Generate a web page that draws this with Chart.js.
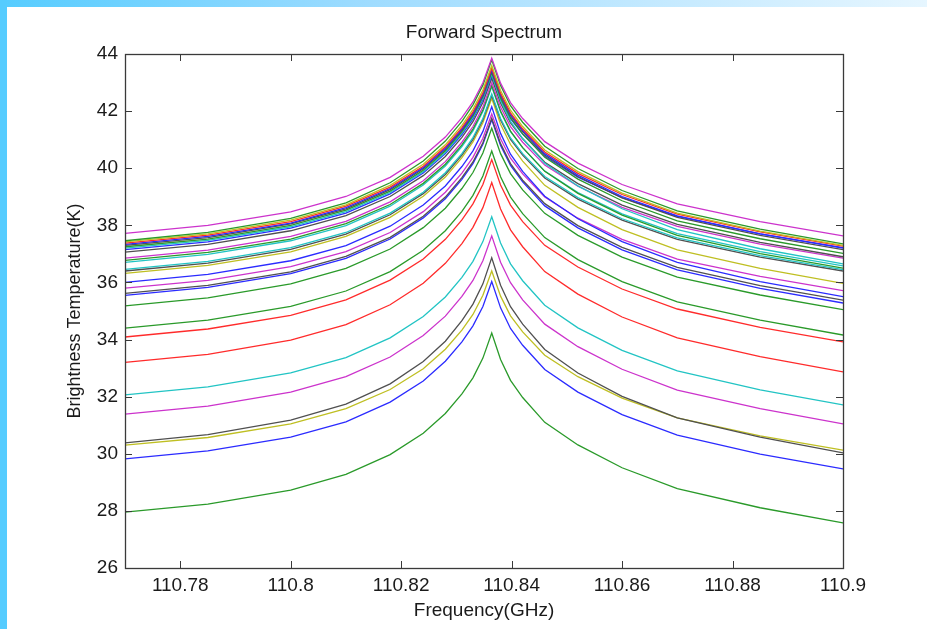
<!DOCTYPE html>
<html>
<head>
<meta charset="utf-8">
<script src="https://cdn.jsdelivr.net/npm/chart.js@4"></script>
<style>
  html, body { margin: 0; padding: 0; background: #fff; }
  body { width: 927px; height: 629px; position: relative; overflow: hidden; }
  .bar-top { position: absolute; left: 0; top: 0; width: 927px; height: 7px;
             background: linear-gradient(to right, #55ccff, #9fdcff 40%, #e6f6ff); }
  .bar-left { position: absolute; left: 0; top: 0; width: 7px; height: 629px; background: #55ccff; }
  .wrap { position: absolute; left: 0; top: 0; width: 927px; height: 629px; }
</style>
</head>
<body>
<div class="bar-top"></div>
<div class="bar-left"></div>
<div class="wrap"><canvas id="spec"></canvas></div>
<script>
// frequency samples (GHz), denser round the line centre
const freqs = [110.77, 110.785, 110.8, 110.81, 110.818, 110.824, 110.828, 110.831, 110.833, 110.8348,
               110.8364,
               110.838, 110.8398, 110.842, 110.846, 110.852, 110.86, 110.87, 110.885, 110.9];
const xTicks = [110.78, 110.8, 110.82, 110.84, 110.86, 110.88, 110.9];
const yTicks = [26, 28, 30, 32, 34, 36, 38, 40, 42, 44];

// brightness temperature (K), one array per curve
const t01 = [37.72, 38.00, 38.47, 39.01, 39.68, 40.42, 41.09, 41.77, 42.32, 42.99, 43.85, 42.98, 42.30, 41.74, 40.93, 40.18, 39.43, 38.75, 38.13, 37.63];
const t02 = [37.46, 37.75, 38.24, 38.79, 39.49, 40.25, 40.95, 41.64, 42.22, 42.91, 43.80, 42.90, 42.19, 41.61, 40.77, 39.99, 39.22, 38.51, 37.87, 37.35];
const t03 = [37.42, 37.70, 38.18, 38.72, 39.40, 40.14, 40.82, 41.50, 42.06, 42.74, 43.60, 42.72, 42.03, 41.46, 40.64, 39.88, 39.13, 38.43, 37.80, 37.30];
const t04 = [37.38, 37.66, 38.13, 38.67, 39.34, 40.07, 40.75, 41.42, 41.97, 42.64, 43.50, 42.63, 41.94, 41.38, 40.57, 39.82, 39.08, 38.39, 37.77, 37.27];
const t05 = [37.33, 37.61, 38.08, 38.62, 39.29, 40.02, 40.70, 41.37, 41.92, 42.59, 43.45, 42.58, 41.89, 41.33, 40.51, 39.76, 39.01, 38.33, 37.70, 37.20];
const t06 = [37.30, 37.57, 38.05, 38.58, 39.25, 39.98, 40.66, 41.33, 41.88, 42.55, 43.40, 42.53, 41.84, 41.28, 40.46, 39.71, 38.96, 38.28, 37.65, 37.15];
const t07 = [37.25, 37.52, 38.00, 38.53, 39.20, 39.93, 40.61, 41.28, 41.83, 42.50, 43.35, 42.46, 41.77, 41.20, 40.38, 39.62, 38.86, 38.16, 37.53, 37.02];
const t08 = [37.20, 37.47, 37.95, 38.48, 39.15, 39.88, 40.56, 41.23, 41.78, 42.45, 43.30, 42.37, 41.64, 41.04, 40.17, 39.38, 38.58, 37.85, 37.18, 36.65];
const t09 = [37.15, 37.42, 37.90, 38.43, 39.10, 39.83, 40.51, 41.18, 41.73, 42.40, 43.25, 42.41, 41.74, 41.20, 40.42, 39.69, 38.97, 38.31, 37.70, 37.22];
const t10 = [37.06, 37.33, 37.81, 38.34, 39.01, 39.74, 40.41, 41.08, 41.63, 42.30, 43.15, 42.28, 41.59, 41.03, 40.21, 39.46, 38.71, 38.03, 37.40, 36.90];
const t11 = [36.85, 37.13, 37.61, 38.14, 38.82, 39.56, 40.23, 40.91, 41.46, 42.14, 43.00, 42.14, 41.46, 40.91, 40.11, 39.37, 38.63, 37.96, 37.34, 36.85];
const t12 = [36.77, 37.05, 37.52, 38.06, 38.73, 39.47, 40.14, 40.82, 41.37, 42.04, 42.90, 42.00, 41.30, 40.72, 39.89, 39.12, 38.36, 37.65, 37.01, 36.50];
const t13 = [36.70, 36.98, 37.46, 37.99, 38.67, 39.41, 40.08, 40.76, 41.31, 41.99, 42.85, 41.97, 41.28, 40.72, 39.90, 39.15, 38.40, 37.71, 37.08, 36.58];
const t14 = [36.46, 36.74, 37.22, 37.75, 38.43, 39.16, 39.84, 40.51, 41.07, 41.74, 42.60, 41.74, 41.06, 40.51, 39.71, 38.97, 38.23, 37.56, 36.94, 36.45];
const t15 = [36.40, 36.68, 37.16, 37.69, 38.37, 39.11, 39.78, 40.46, 41.01, 41.69, 42.55, 41.69, 41.01, 40.46, 39.66, 38.92, 38.18, 37.51, 36.89, 36.40];
const t16 = [36.32, 36.60, 37.07, 37.61, 38.28, 39.02, 39.69, 40.37, 40.92, 41.59, 42.45, 41.54, 40.83, 40.25, 39.40, 38.63, 37.85, 37.14, 36.49, 35.97];
const t17 = [36.00, 36.28, 36.76, 37.29, 37.97, 38.71, 39.38, 40.06, 40.61, 41.29, 42.15, 41.22, 40.49, 39.89, 39.02, 38.23, 37.43, 36.70, 36.03, 35.50];
const t18 = [35.80, 36.07, 36.55, 37.08, 37.75, 38.48, 39.16, 39.83, 40.38, 41.05, 41.90, 41.03, 40.35, 39.80, 38.99, 38.25, 37.51, 36.82, 36.21, 35.71];
const t19 = [35.62, 35.90, 36.37, 36.91, 37.58, 38.32, 38.99, 39.67, 40.22, 40.89, 41.75, 40.86, 40.16, 39.58, 38.76, 37.99, 37.23, 36.53, 35.89, 35.38];
const t20 = [35.55, 35.83, 36.31, 36.84, 37.52, 38.26, 38.93, 39.61, 40.16, 40.84, 41.70, 40.80, 40.10, 39.52, 38.68, 37.91, 37.14, 36.44, 35.79, 35.28];
const t21 = [35.18, 35.46, 35.95, 36.49, 37.17, 37.92, 38.60, 39.29, 39.85, 40.53, 41.40, 40.51, 39.81, 39.24, 38.42, 37.65, 36.89, 36.19, 35.56, 35.05];
const t22 = [34.40, 34.68, 35.16, 35.70, 36.38, 37.13, 37.81, 38.49, 39.05, 39.73, 40.60, 39.70, 38.99, 38.41, 37.57, 36.80, 36.03, 35.32, 34.68, 34.16];
const t23 = [34.09, 34.37, 34.85, 35.39, 36.08, 36.82, 37.51, 38.19, 38.75, 39.43, 40.30, 39.41, 38.71, 38.13, 37.30, 36.54, 35.77, 35.07, 34.43, 33.92];
const t24 = [33.20, 33.48, 33.98, 34.52, 35.22, 35.97, 36.67, 37.36, 37.93, 38.62, 39.50, 38.57, 37.84, 37.25, 36.38, 35.59, 34.79, 34.06, 33.40, 32.87];
const t25 = [32.06, 32.34, 32.83, 33.37, 34.06, 34.81, 35.49, 36.18, 36.74, 37.43, 38.30, 37.38, 36.65, 36.06, 35.20, 34.41, 33.62, 32.90, 32.24, 31.71];
const t26 = [31.39, 31.67, 32.16, 32.70, 33.39, 34.14, 34.82, 35.51, 36.07, 36.76, 37.63, 36.71, 35.99, 35.39, 34.54, 33.75, 32.96, 32.23, 31.58, 31.05];
const t27 = [30.38, 30.67, 31.18, 31.74, 32.45, 33.23, 33.94, 34.66, 35.24, 35.95, 36.86, 35.90, 35.15, 34.54, 33.65, 32.83, 32.01, 31.26, 30.58, 30.03];
const t28 = [30.30, 30.57, 31.05, 31.58, 32.25, 32.98, 33.66, 34.33, 34.88, 35.55, 36.40, 35.52, 34.83, 34.27, 33.45, 32.70, 31.95, 31.26, 30.63, 30.13];
const t29 = [29.82, 30.10, 30.58, 31.12, 31.81, 32.55, 33.24, 33.92, 34.48, 35.16, 36.03, 35.11, 34.39, 33.80, 32.95, 32.16, 31.37, 30.65, 29.99, 29.47];
const t30 = [27.96, 28.24, 28.73, 29.28, 29.97, 30.72, 31.41, 32.10, 32.66, 33.35, 34.23, 33.30, 32.57, 31.97, 31.10, 30.31, 29.51, 28.78, 28.11, 27.58];

const curves = [t01, t02, t03, t04, t05, t06, t07, t08, t09, t10, t11, t12, t13, t14, t15,
                t16, t17, t18, t19, t20, t21, t22, t23, t24, t25, t26, t27, t28, t29, t30];
const curveColors = ['m', 'g', 'y', 'r', 'b', 'k', 'g', 'c', 'b', 'k', 'm', 'g', 'c', 'c', 'k',
                     'y', 'b', 'm', 'k', 'b', 'g', 'g', 'r', 'r', 'c', 'm', 'k', 'y', 'b', 'g'];

// matlab-ish line colours
const palette = { b: '#2b2bff', g: '#2a9a2a', r: '#ff2b2b', c: '#22c4c4', m: '#cc33cc', y: '#bfbf22', k: '#505050' };

const FONT = "'Liberation Sans', Arial, sans-serif";
const INK = '#1a1a1a';

// inward tick marks + box frame, like a matlab axes
const matlabAxes = {
    id: 'matlabAxes',
    afterDatasetsDraw(chart) {
        const {ctx, chartArea: a, scales: {x, y}} = chart;
        const len = 7;
        ctx.save();
        ctx.strokeStyle = '#3a3a3a';
        ctx.lineWidth = 1;
        ctx.beginPath();
        x.ticks.forEach(t => {
            const px = Math.round(x.getPixelForValue(t.value)) + 0.5;
            ctx.moveTo(px, a.bottom); ctx.lineTo(px, a.bottom - len);
            ctx.moveTo(px, a.top); ctx.lineTo(px, a.top + len);
        });
        y.ticks.forEach(t => {
            const py = Math.round(y.getPixelForValue(t.value)) + 0.5;
            ctx.moveTo(a.left, py); ctx.lineTo(a.left + len, py);
            ctx.moveTo(a.right, py); ctx.lineTo(a.right - len, py);
        });
        ctx.stroke();
        ctx.lineWidth = 1.3;
        ctx.strokeRect(Math.round(a.left) + 0.5, Math.round(a.top) + 0.5,
                       Math.round(a.right - a.left), Math.round(a.bottom - a.top));
        ctx.restore();
    }
};

new Chart(document.getElementById('spec').getContext('2d'), {
    type: 'line',
    data: {
        datasets: curves.map((vals, i) => ({
            data: vals.map((v, j) => ({x: freqs[j], y: v})),
            borderColor: palette[curveColors[i]],
            borderWidth: 1.3,
            pointRadius: 0,
            tension: 0,
            fill: false
        }))
    },
    options: {
        responsive: true,
        maintainAspectRatio: false,
        animation: false,
        events: [],
        layout: { padding: { left: 0, right: 84, top: 0, bottom: 0 } },
        plugins: {
            legend: { display: false },
            tooltip: { enabled: false },
            title: { display: false }
        },
        scales: {
            x: {
                type: 'linear',
                min: 110.77,
                max: 110.9,
                grid: { display: false, drawTicks: false },
                border: { display: false },
                afterBuildTicks: s => { s.ticks = xTicks.map(v => ({value: v})); },
                afterFit: s => { s.height = 61; },
                ticks: {
                    padding: 6,
                    color: INK,
                    font: { family: FONT, size: 19 },
                    maxRotation: 0,
                    callback: v => String(Number(v.toFixed(2)))
                },
                title: {
                    display: true,
                    text: 'Frequency(GHz)',
                    color: INK,
                    font: { family: FONT, size: 19 },
                    padding: { top: 0, bottom: 7 }
                }
            },
            // top axis only carries the plot title so it centres over the axes box
            x2: {
                type: 'linear',
                position: 'top',
                min: 110.77,
                max: 110.9,
                grid: { display: false, drawTicks: false },
                border: { display: false },
                ticks: { display: false },
                afterFit: s => { s.height = 54; },
                title: {
                    display: true,
                    text: 'Forward Spectrum',
                    color: INK,
                    font: { family: FONT, size: 19 },
                    padding: { top: 21, bottom: 0 }
                }
            },
            y: {
                min: 26,
                max: 44,
                grid: { display: false, drawTicks: false },
                border: { display: false },
                afterBuildTicks: s => { s.ticks = yTicks.map(v => ({value: v})); },
                afterFit: s => { s.width = 125; },
                ticks: {
                    padding: 7,
                    color: INK,
                    font: { family: FONT, size: 19 }
                },
                title: {
                    display: true,
                    text: 'Brightness Temperature(K)',
                    color: INK,
                    font: { family: FONT, size: 18 },
                    padding: { top: 64, bottom: 0 }
                }
            }
        }
    },
    plugins: [matlabAxes]
});
</script>
</body>
</html>
